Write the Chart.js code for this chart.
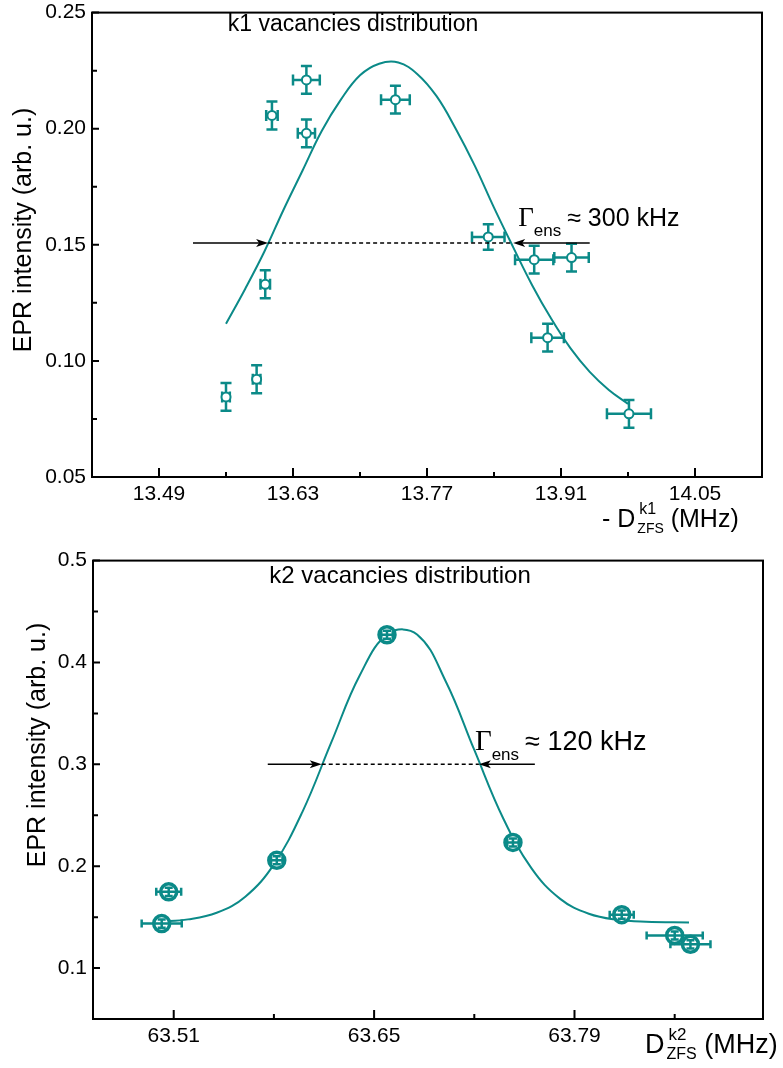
<!DOCTYPE html>
<html>
<head>
<meta charset="utf-8">
<script src="https://cdn.jsdelivr.net/npm/chart.js@4.4.1/dist/chart.umd.min.js"></script>
<style>
  body { margin: 0; background: #fff; overflow: hidden; }
  .panel { position: absolute; left: 0; width: 783px; }
</style>
</head>
<body>
<div class="panel" style="top:-6px;height:546px"><canvas id="k1-chart"></canvas></div>
<div class="panel" style="top:542px;height:526px"><canvas id="k2-chart"></canvas></div>
<script>
// ---------- k1 panel data ----------
const k1Freq    = [13.560, 13.592, 13.601, 13.608, 13.644, 13.644, 13.737, 13.834, 13.882, 13.921, 13.896, 13.981];
const k1Int     = [0.0845, 0.0921, 0.1330, 0.2057, 0.2210, 0.1980, 0.2125, 0.1534, 0.1436, 0.1445, 0.1100, 0.0772];
const k1FreqErr = [0.004, 0.004, 0.005, 0.006, 0.014, 0.009, 0.015, 0.017, 0.020, 0.018, 0.017, 0.023];
const k1IntErr  = [0.006, 0.006, 0.006, 0.006, 0.006, 0.006, 0.006, 0.0055, 0.006, 0.006, 0.006, 0.006];
const k1FitFreq = [13.56, 13.58, 13.60, 13.62, 13.64, 13.66, 13.68, 13.70, 13.72, 13.74, 13.76,
                   13.78, 13.80, 13.82, 13.84, 13.86, 13.88, 13.90, 13.92, 13.94, 13.96, 13.98];
const k1FitInt  = [0.116, 0.131, 0.147, 0.165, 0.182, 0.199, 0.2125, 0.223, 0.228, 0.2285, 0.2235,
                   0.214, 0.200, 0.184, 0.166, 0.149, 0.1325, 0.118, 0.1054, 0.0953, 0.0875, 0.0815];
const k1XTicks  = [13.49, 13.63, 13.77, 13.91, 14.05];
const k1XMinor  = [13.56, 13.70, 13.84, 13.98];
const k1YTicks  = [0.05, 0.10, 0.15, 0.20, 0.25];
const k1YMinor  = [0.075, 0.125, 0.175, 0.225];
const k1HalfLevel = 0.1508;
const k1ArrowLeft  = [13.5255, 13.604];
const k1ArrowRight = [13.940, 13.860];

// ---------- k2 panel data ----------
const k2Freq    = [63.5016, 63.5065, 63.582, 63.659, 63.747, 63.823, 63.860, 63.871];
const k2Int     = [0.1437, 0.1748, 0.2058, 0.4272, 0.2233, 0.1524, 0.1320, 0.1233];
const k2FreqErr = [0.014, 0.0087, 0.004, 0.004, 0.004, 0.0084, 0.0196, 0.014];
const k2IntErr  = [0.004, 0.004, 0.004, 0.004, 0.004, 0.004, 0.004, 0.004];
const k2FitFreq = [63.50, 63.52, 63.54, 63.56, 63.58, 63.60, 63.62, 63.64, 63.66,
                   63.68, 63.70, 63.72, 63.74, 63.76, 63.78, 63.80, 63.82, 63.84, 63.87];
const k2FitInt  = [0.1455, 0.1478, 0.1543, 0.1701, 0.2018, 0.2536, 0.3212, 0.3874, 0.4283,
                   0.4275, 0.3816, 0.3141, 0.2476, 0.1978, 0.1679, 0.1533, 0.1474, 0.1455, 0.1448];
const k2XTicks  = [63.51, 63.65, 63.79];
const k2XMinor  = [63.58, 63.72, 63.86];
const k2YTicks  = [0.1, 0.2, 0.3, 0.4, 0.5];
const k2YMinor  = [0.15, 0.25, 0.35, 0.45];
const k2HalfLevel = 0.300;
const k2ArrowLeft  = [63.5757, 63.6134];
const k2ArrowRight = [63.7623, 63.7232];

const TEAL = '#0b8a88';
const SANS = '"Liberation Sans", Arial, sans-serif';
const SERIF = '"Liberation Serif", "Times New Roman", serif';

const zip = (xs, ys) => xs.map((x, i) => ({ x: x, y: ys[i] }));

// error bars drawn from the dataset's xErr / yErr arrays through the chart scales
const errorBarPlugin = {
    id: 'errorBars',
    paint(chart, opts) {
        const { ctx } = chart;
        const xs = chart.scales.x, ys = chart.scales.y;
        chart.data.datasets.forEach(ds => {
            if (!ds.xErr) return;
            ctx.save();
            ctx.strokeStyle = ds.borderColor;
            ctx.lineWidth = opts.lineWidth;
            ds.data.forEach((p, i) => {
                const px = xs.getPixelForValue(p.x), py = ys.getPixelForValue(p.y);
                const xl = xs.getPixelForValue(p.x - ds.xErr[i]);
                const xr = xs.getPixelForValue(p.x + ds.xErr[i]);
                const yt = ys.getPixelForValue(p.y + ds.yErr[i]);
                const yb = ys.getPixelForValue(p.y - ds.yErr[i]);
                const c = opts.cap / 2;
                ctx.beginPath();
                ctx.moveTo(xl, py); ctx.lineTo(xr, py);
                ctx.moveTo(px, yt); ctx.lineTo(px, yb);
                ctx.moveTo(xl, py - c); ctx.lineTo(xl, py + c);
                ctx.moveTo(xr, py - c); ctx.lineTo(xr, py + c);
                ctx.moveTo(px - c, yt); ctx.lineTo(px + c, yt);
                ctx.moveTo(px - c, yb); ctx.lineTo(px + c, yb);
                ctx.stroke();
            });
            ctx.restore();
        });
    },
    beforeDatasetsDraw(chart, args, opts) {
        if (opts.layer === 'before') this.paint(chart, opts);
    },
    afterDatasetsDraw(chart, args, opts) {
        if (opts.layer === 'after') this.paint(chart, opts);
    }
};

function arrow(ctx, x0, x1, y) {
    const dir = Math.sign(x1 - x0);
    ctx.beginPath();
    ctx.moveTo(x0, y); ctx.lineTo(x1 - dir * 8, y);
    ctx.stroke();
    ctx.beginPath();
    ctx.moveTo(x1, y);
    ctx.lineTo(x1 - dir * 12, y - 4);
    ctx.lineTo(x1 - dir * 9, y);
    ctx.lineTo(x1 - dir * 12, y + 4);
    ctx.closePath();
    ctx.fill();
}

// frame, inward ticks, arrows, titles and the unit labels
function decorPlugin(cfg) {
    return {
        id: 'decor',
        afterDraw(chart) {
            const { ctx, chartArea: a } = chart;
            const xs = chart.scales.x, ys = chart.scales.y;
            ctx.save();
            ctx.strokeStyle = '#000';
            ctx.fillStyle = '#000';
            ctx.lineWidth = 2;
            ctx.strokeRect(a.left, a.top, a.right - a.left, a.bottom - a.top);

            ctx.beginPath();
            cfg.xTicks.forEach(v => { const p = xs.getPixelForValue(v); ctx.moveTo(p, a.bottom); ctx.lineTo(p, a.bottom - 9); });
            cfg.xMinor.forEach(v => { const p = xs.getPixelForValue(v); ctx.moveTo(p, a.bottom); ctx.lineTo(p, a.bottom - 5); });
            cfg.yTicks.forEach(v => { const p = ys.getPixelForValue(v); ctx.moveTo(a.left, p); ctx.lineTo(a.left + 7, p); });
            cfg.yMinor.forEach(v => { const p = ys.getPixelForValue(v); ctx.moveTo(a.left, p); ctx.lineTo(a.left + 5, p); });
            ctx.stroke();

            // half-maximum arrows and dashed line
            const ly = ys.getPixelForValue(cfg.level);
            ctx.lineWidth = 1.5;
            arrow(ctx, xs.getPixelForValue(cfg.arrowL[0]), xs.getPixelForValue(cfg.arrowL[1]), ly);
            arrow(ctx, xs.getPixelForValue(cfg.arrowR[0]), xs.getPixelForValue(cfg.arrowR[1]), ly);
            ctx.setLineDash([4, 3]);
            ctx.beginPath();
            ctx.moveTo(xs.getPixelForValue(cfg.arrowL[1]), ly);
            ctx.lineTo(xs.getPixelForValue(cfg.arrowR[1]), ly);
            ctx.stroke();
            ctx.setLineDash([]);

            // Gamma label
            let gx = xs.getPixelForValue(cfg.arrowR[1]) + cfg.gammaDx;
            const gy = ly + cfg.gammaDy;
            ctx.textBaseline = 'alphabetic';
            ctx.textAlign = 'left';
            ctx.font = (cfg.gammaSize + 2) + 'px ' + SERIF;
            ctx.fillText('\u0393', gx, gy);
            gx += ctx.measureText('\u0393').width;
            ctx.font = '17px ' + SANS;
            ctx.fillText('ens', gx, gy + 10);
            gx += ctx.measureText('ens').width + 6;
            ctx.font = cfg.gammaSize + 'px ' + SANS;
            ctx.fillText('\u2248 ' + cfg.gammaText, gx, gy);

            // panel title inside the frame
            ctx.font = cfg.titleSize + 'px ' + SANS;
            ctx.textAlign = 'center';
            ctx.fillText(cfg.title, a.left + cfg.titleX, a.top + cfg.titleY);

            // y axis title
            ctx.save();
            ctx.translate(cfg.yTitleX, cfg.yTitleY);
            ctx.rotate(-Math.PI / 2);
            ctx.textBaseline = 'middle';
            ctx.font = '25px ' + SANS;
            ctx.fillText('EPR intensity (arb. u.)', 0, 0);
            ctx.restore();

            // x unit label with super/subscripts
            ctx.textAlign = 'left';
            let ux = cfg.unitX;
            const uy = cfg.unitY, us = cfg.unitSize;
            ctx.font = us + 'px ' + SANS;
            ctx.fillText(cfg.unitPre, ux, uy);
            ux += ctx.measureText(cfg.unitPre).width + 2;
            ctx.font = Math.round(us * 0.62) + 'px ' + SANS;
            ctx.fillText(cfg.unitSup, ux + 2, uy - 13);
            const wSup = ctx.measureText(cfg.unitSup).width + 2;
            ctx.font = Math.round(us * 0.58) + 'px ' + SANS;
            ctx.fillText('ZFS', ux, uy + 6);
            ux += Math.max(wSup, ctx.measureText('ZFS').width);
            ctx.font = us + 'px ' + SANS;
            ctx.fillText(' (MHz)', ux, uy);
            ctx.restore();
        }
    };
}

function makeChart(id, o) {
    const ctx = document.getElementById(id).getContext('2d');
    return new Chart(ctx, {
        type: 'scatter',
        data: {
            datasets: [
                {
                    label: 'data',
                    data: zip(o.freq, o.int),
                    xErr: o.freqErr,
                    yErr: o.intErr,
                    borderColor: TEAL,
                    backgroundColor: '#fff',
                    pointRadius: o.markerRadius,
                    pointBorderWidth: o.markerBorder,
                    pointBackgroundColor: '#fff',
                    pointBorderColor: TEAL
                },
                {
                    label: 'fit',
                    type: 'line',
                    data: zip(o.fitFreq, o.fitInt),
                    borderColor: TEAL,
                    borderWidth: 2,
                    pointRadius: 0,
                    tension: 0.4,
                    fill: false
                }
            ]
        },
        options: {
            responsive: true,
            maintainAspectRatio: false,
            animation: false,
            layout: { padding: { left: 0, right: o.padRight, top: 13, bottom: 0 } },
            plugins: {
                legend: { display: false },
                tooltip: { enabled: false },
                errorBars: { layer: o.errLayer, lineWidth: 2.5, cap: o.cap }
            },
            scales: {
                x: {
                    type: 'linear',
                    min: o.xMin,
                    max: o.xMax,
                    afterBuildTicks: s => { s.ticks = o.xTicks.map(v => ({ value: v })); },
                    afterFit: s => { s.height = o.xAxisHeight; },
                    grid: { display: false, drawTicks: false },
                    border: { display: false },
                    ticks: {
                        padding: 5,
                        color: '#000',
                        font: { size: 21, family: SANS },
                        maxRotation: 0,
                        callback: v => v.toFixed(2)
                    }
                },
                y: {
                    type: 'linear',
                    min: o.yMin,
                    max: o.yMax,
                    afterBuildTicks: s => { s.ticks = o.yTicks.map(v => ({ value: v })); },
                    afterFit: s => { s.width = o.yAxisWidth; },
                    grid: { display: false, drawTicks: false },
                    border: { display: false },
                    ticks: {
                        padding: 6,
                        color: '#000',
                        font: { size: 21, family: SANS },
                        callback: v => v.toFixed(o.yDigits)
                    }
                }
            }
        },
        plugins: [errorBarPlugin, decorPlugin(o.decor)]
    });
}

makeChart('k1-chart', {
    freq: k1Freq, int: k1Int, freqErr: k1FreqErr, intErr: k1IntErr,
    fitFreq: k1FitFreq, fitInt: k1FitInt,
    xMin: 13.42, xMax: 14.12, yMin: 0.05, yMax: 0.25,
    xTicks: k1XTicks, yTicks: k1YTicks, yDigits: 2,
    padRight: 21, yAxisWidth: 92, xAxisHeight: 63,
    markerRadius: 4.5, markerBorder: 2, errLayer: 'before', cap: 11,
    decor: {
        xTicks: k1XTicks, xMinor: k1XMinor, yTicks: k1YTicks, yMinor: k1YMinor,
        level: k1HalfLevel, arrowL: k1ArrowLeft, arrowR: k1ArrowRight,
        gammaDx: 5, gammaDy: -17, gammaSize: 25, gammaText: '300 kHz',
        title: 'k1 vacancies distribution', titleSize: 23, titleX: 261, titleY: 18,
        yTitleX: 24, yTitleY: 236,
        unitX: 602, unitY: 533, unitSize: 25, unitPre: '- D', unitSup: 'k1'
    }
});

makeChart('k2-chart', {
    freq: k2Freq, int: k2Int, freqErr: k2FreqErr, intErr: k2IntErr,
    fitFreq: k2FitFreq, fitInt: k2FitInt,
    xMin: 63.4536, xMax: 63.9217, yMin: 0.05, yMax: 0.5,
    xTicks: k2XTicks, yTicks: k2YTicks, yDigits: 1,
    padRight: 20, yAxisWidth: 93, xAxisHeight: 49,
    markerRadius: 8, markerBorder: 3.5, errLayer: 'after', cap: 8,
    decor: {
        xTicks: k2XTicks, xMinor: k2XMinor, yTicks: k2YTicks, yMinor: k2YMinor,
        level: k2HalfLevel, arrowL: k2ArrowLeft, arrowR: k2ArrowRight,
        gammaDx: -4, gammaDy: -14, gammaSize: 27, gammaText: '120 kHz',
        title: 'k2 vacancies distribution', titleSize: 24, titleX: 307, titleY: 22,
        yTitleX: 38, yTitleY: 203,
        unitX: 645, unitY: 511, unitSize: 27, unitPre: 'D', unitSup: 'k2'
    }
});
</script>
</body>
</html>
